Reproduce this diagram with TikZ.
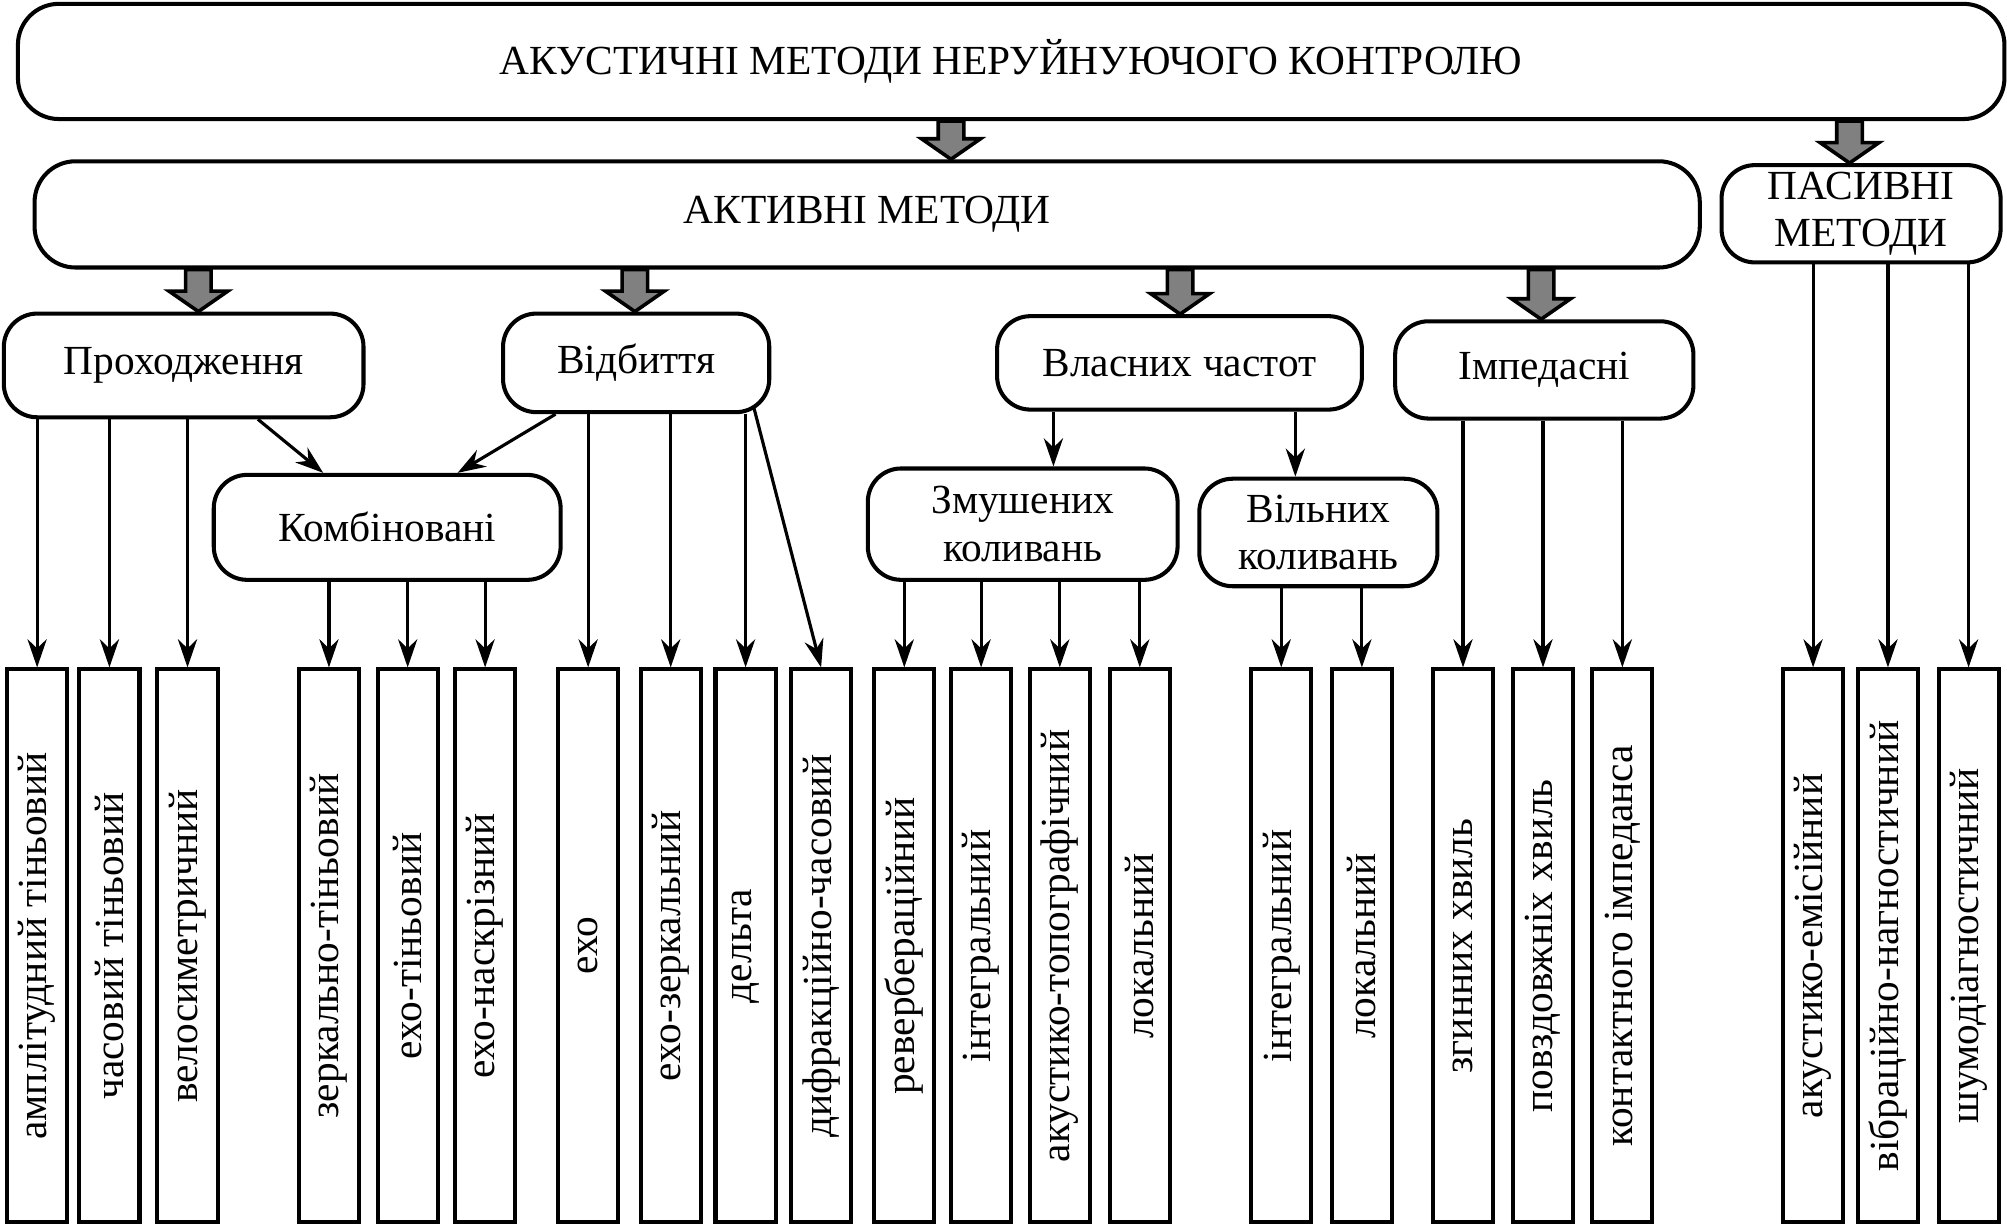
\documentclass[tikz,border=0pt]{standalone}
\usepackage{fontspec}
\setmainfont{Liberation Serif}
\usetikzlibrary{arrows.meta, calc}
\tikzstyle{method} = [rectangle, rounded corners=2.6mm, draw=black, line width=0.9pt, align=center, inner sep=0pt]
\tikzstyle{leaf} = [rectangle, draw=black, line width=0.9pt, minimum width=4.7mm, minimum height=43.2mm, inner sep=0pt]
\tikzstyle{arrow} = [line width=0.7pt,->,>={Stealth[length=2.2mm,width=1.5mm]}]
\tikzstyle{fatarrow} = [draw=black, line width=0.8pt, fill=gray]
\newcommand{\grayarrow}[3]{%
  \coordinate (gx) at (#1,0);
  \coordinate (gs) at (#2.south -| gx);
  \coordinate (gt) at (#3.north -| gx);
  \draw[fatarrow] ($(gs)+(-10,0)$) -- ($(gt)+(-10,-16)$) -- ($(gt)+(-23,-16)$) -- (gt) -- ($(gt)+(23,-16)$) -- ($(gt)+(10,-16)$) -- ($(gs)+(10,0)$) -- cycle;}

\begin{document}
\begin{tikzpicture}[x=0.1mm, y=-0.1mm, font=\fontsize{9.2}{10.6}\selectfont]
        \useasboundingbox (0,0) rectangle (1568,957);

        \node (acoustic) [method, rounded corners=3.2mm, minimum width=155.2mm, minimum height=9mm] at (790,48) {АКУСТИЧНІ МЕТОДИ НЕРУЙНУЮЧОГО КОНТРОЛЮ};
        \node (active) [method, rounded corners=3.2mm, minimum width=130.1mm, minimum height=8.3mm] at (677.5,167.5) {АКТИВНІ МЕТОДИ};
        \node (passive) [method, minimum width=21.8mm, minimum height=7.6mm] at (1454,167) {ПАСИВНІ\\МЕТОДИ};

        \node (transmit) [method, minimum width=28.1mm, minimum height=8.1mm] at (143.5,285.5) {Проходження};
        \node (reflect) [method, minimum width=20.8mm, minimum height=7.7mm] at (497,283.5) {Відбиття};
        \node (eigen) [method, minimum width=28.5mm, minimum height=7.3mm] at (921.5,283.5) {Власних частот};
        \node (imped) [method, minimum width=23.3mm, minimum height=7.6mm] at (1206.5,289) {Імпедасні};

        \node (combined) [method, minimum width=27.1mm, minimum height=8.2mm] at (302.5,412) {Комбіновані};
        \node (forced) [method, minimum width=24.2mm, minimum height=8.7mm] at (799,409.5) {Змушених\\коливань};
        \node (free) [method, minimum width=18.6mm, minimum height=8.4mm] at (1030,416) {Вільних\\коливань};

        \node (l1) [leaf] at (29,739) {\rotatebox{90}{амплітудний тіньовий}};
        \node (l2) [leaf] at (85.5,739) {\rotatebox{90}{часовий тіньовий}};
        \node (l3) [leaf] at (146.5,739) {\rotatebox{90}{велосиметричний}};
        \node (l4) [leaf] at (257,739) {\rotatebox{90}{зеркально-тіньовий}};
        \node (l5) [leaf] at (318.5,739) {\rotatebox{90}{ехо-тіньовий}};
        \node (l6) [leaf] at (379,739) {\rotatebox{90}{ехо-наскрізний}};
        \node (l7) [leaf] at (459.5,739) {\rotatebox{90}{ехо}};
        \node (l8) [leaf] at (524,739) {\rotatebox{90}{ехо-зеркальний}};
        \node (l9) [leaf] at (582.5,739) {\rotatebox{90}{дельта}};
        \node (l10) [leaf] at (641.5,739) {\rotatebox{90}{дифракційно-часовий}};
        \node (l11) [leaf] at (706.5,739) {\rotatebox{90}{ревербераційний}};
        \node (l12) [leaf] at (766.5,739) {\rotatebox{90}{інтегральний}};
        \node (l13) [leaf] at (828,739) {\rotatebox{90}{акустико-топографічний}};
        \node (l14) [leaf] at (890.5,739) {\rotatebox{90}{локальний}};
        \node (l15) [leaf] at (1001,739) {\rotatebox{90}{інтегральний}};
        \node (l16) [leaf] at (1064,739) {\rotatebox{90}{локальний}};
        \node (l17) [leaf] at (1143,739) {\rotatebox{90}{згинних хвиль}};
        \node (l18) [leaf] at (1205.5,739) {\rotatebox{90}{повздовжніх хвиль}};
        \node (l19) [leaf] at (1267.5,739) {\rotatebox{90}{контактного імпеданса}};
        \node (l20) [leaf] at (1416.5,739) {\rotatebox{90}{акустико-емісійний}};
        \node (l21) [leaf] at (1475,739) {\rotatebox{90}{вібраційно-нагностичний}};
        \node (l22) [leaf] at (1538,739) {\rotatebox{90}{шумодіагностичний}};

        \grayarrow{743}{acoustic}{active}
        \grayarrow{1445}{acoustic}{passive}
        \grayarrow{155}{active}{transmit}
        \grayarrow{496}{active}{reflect}
        \grayarrow{922}{active}{eigen}
        \grayarrow{1204}{active}{imped}

        \draw[arrow] (transmit.south -| l1.north) -- (l1.north);
        \draw[arrow] (transmit.south -| l2.north) -- (l2.north);
        \draw[arrow] (transmit.south -| l3.north) -- (l3.north);
        \draw[arrow] ($(transmit.south)+(58,0)$) -- ($(combined.north)+(-50,0)$);
        \draw[arrow] ($(reflect.south)+(-63,0)$) -- ($(combined.north)+(55,0)$);

        \draw[arrow] (combined.south -| l4.north) -- (l4.north);
        \draw[arrow] (combined.south -| l5.north) -- (l5.north);
        \draw[arrow] (combined.south -| l6.north) -- (l6.north);

        \draw[arrow] (reflect.south -| l7.north) -- (l7.north);
        \draw[arrow] (reflect.south -| l8.north) -- (l8.north);
        \draw[arrow] (reflect.south -| l9.north) -- (l9.north);
        \draw[arrow] ($(reflect.south)+(92,-5)$) -- (l10.north);

        \coordinate (forcedin) at ($(forced.north)+(24,0)$);
        \coordinate (freein) at ($(free.north)+(-18,0)$);
        \draw[arrow] (eigen.south -| forcedin) -- (forcedin);
        \draw[arrow] (eigen.south -| freein) -- (freein);

        \draw[arrow] (forced.south -| l11.north) -- (l11.north);
        \draw[arrow] (forced.south -| l12.north) -- (l12.north);
        \draw[arrow] (forced.south -| l13.north) -- (l13.north);
        \draw[arrow] (forced.south -| l14.north) -- (l14.north);

        \draw[arrow] (free.south -| l15.north) -- (l15.north);
        \draw[arrow] (free.south -| l16.north) -- (l16.north);

        \draw[arrow] (imped.south -| l17.north) -- (l17.north);
        \draw[arrow] (imped.south -| l18.north) -- (l18.north);
        \draw[arrow] (imped.south -| l19.north) -- (l19.north);

        \draw[arrow] (passive.south -| l20.north) -- (l20.north);
        \draw[arrow] (passive.south -| l21.north) -- (l21.north);
        \draw[arrow] (passive.south -| l22.north) -- (l22.north);
    \end{tikzpicture}
\end{document}
